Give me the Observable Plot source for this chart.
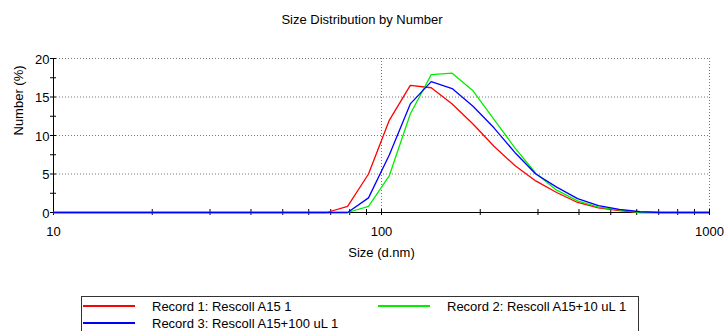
<!DOCTYPE html>
<html>
<head>
<meta charset="utf-8">
<script src="https://cdn.jsdelivr.net/npm/d3@7"></script>
<script src="https://cdn.jsdelivr.net/npm/@observablehq/plot@0.6"></script>
<style>
  body { margin: 0; background: #fff; font-family: "Liberation Sans", Arial, sans-serif; }
  #wrap { position: relative; width: 724px; height: 331px; overflow: hidden; background: #fff; }
  #title { position: absolute; left: 0; top: 13px; width: 724px; text-align: center; font-size: 13px; line-height: 13px; color: #000; }
  #chart { position: absolute; left: 0; top: 40px; }
  #chart svg { display: block; }
  #legendBox { position: absolute; left: 81px; top: 296px; width: 558px; height: 60px; border: 1px solid #333; box-sizing: border-box; }
  .ltext { position: absolute; font-size: 13px; line-height: 13px; white-space: nowrap; color: #000; }
  .lswatch { position: absolute; height: 2px; width: 52px; }
</style>
</head>
<body>
<div id="wrap">
  <div id="title"></div>
  <div id="chart"></div>
  <div id="legendBox"></div>
</div>
<script>
// ---- data ----
const titleText = "Size Distribution by Number";
const xLabel = "Size (d.nm)";
const yLabel = "Number (%)";

// size classes (d.nm)
const sizes = [8.721, 10.1, 11.7, 13.54, 15.69, 18.17, 21.04, 24.36, 28.21, 32.67, 37.84, 43.82, 50.75, 58.77,
  68.06, 78.82, 91.28, 105.7, 122.4, 141.8, 164.2, 190.1, 220.2, 255.0, 295.3, 342.0, 396.1, 458.7, 531.2, 615.1,
  712.4, 825.0, 955.4, 1106];

// Number (%) per size class
const record1 = [0, 0, 0, 0, 0, 0, 0, 0, 0, 0, 0, 0, 0, 0,
  0, 0.8, 5.0, 12.0, 16.5, 16.2, 14.1, 11.5, 8.6, 6.1, 4.1, 2.6, 1.3, 0.6, 0.25, 0,
  0, 0, 0, 0];
const record2 = [0, 0, 0, 0, 0, 0, 0, 0, 0, 0, 0, 0, 0, 0,
  0, 0, 0.8, 4.8, 12.8, 17.9, 18.1, 15.8, 12.1, 8.4, 5.1, 2.9, 1.5, 0.7, 0.35, 0,
  0, 0, 0, 0];
const record3 = [0, 0, 0, 0, 0, 0, 0, 0, 0, 0, 0, 0, 0, 0,
  0, 0, 1.9, 7.5, 14.1, 17.0, 16.1, 13.8, 11.0, 7.8, 5.0, 3.3, 1.8, 0.9, 0.4, 0.1,
  0, 0, 0, 0];

const seriesNames = ["Record 1: Rescoll A15 1", "Record 2: Rescoll A15+10 uL 1", "Record 3: Rescoll A15+100 uL 1"];
const seriesColors = ["#ff0000", "#00ee00", "#0000ff"];

const xTickLabels = [10, 100, 1000];
const xMinorTicks = [10, 20, 30, 40, 50, 60, 70, 80, 90, 100, 200, 300, 400, 500, 600, 700, 800, 900, 1000];
const yTickLabels = [0, 5, 10, 15, 20];
const yMinorTicks = [0, 2.5, 5, 7.5, 10, 12.5, 15, 17.5, 20];
const xGrid = [100, 1000];
const yGrid = [5, 10, 15, 20];
const xDomain = [10, 1000];
const yDomain = [0, 20];

// ---- layout ----
const W = 724, H = 250;
const mL = 53, mR = 15, mT = 18;
const yBottomPx = 172;          // pixel of y = 0
const mB = 70;                  // frame extends a little below y = 0 so the zero line isn't clipped
const frameBottom = H - mB;     // 180
const plotW = W - mL - mR;
const tick = 3;

const rows = [];
[record1, record2, record3].forEach((vals, k) => {
  sizes.forEach((s, i) => rows.push({size: s, value: vals[i], series: seriesNames[k]}));
});

const chart = Plot.plot({
  width: W, height: H,
  marginLeft: mL, marginRight: mR, marginTop: mT, marginBottom: mB,
  style: {fontFamily: "'Liberation Sans', Arial, sans-serif", fontSize: "13px", background: "#fff", color: "#000"},
  x: {type: "log", domain: xDomain},
  y: {domain: yDomain, range: [yBottomPx, mT]},
  color: {domain: seriesNames, range: seriesColors},
  marks: [
    Plot.ruleY(yGrid, {y: d => d, stroke: "#777", strokeDasharray: "1,2"}),
    Plot.ruleX(xGrid, {x: d => d, y1: yDomain[0], y2: yDomain[1], stroke: "#777", strokeDasharray: "1,2"}),
    Plot.ruleX([xDomain[0]], {x: d => d, y1: yDomain[0], y2: yDomain[1], stroke: "#000"}),
    Plot.ruleY([yDomain[0]], {y: d => d, stroke: "#000"}),
    Plot.tickY(yMinorTicks, {y: d => d, stroke: "#000", insetLeft: -tick, insetRight: plotW - tick}),
    Plot.tickX(xMinorTicks, {x: d => d, stroke: "#000", insetTop: yBottomPx - tick - mT, insetBottom: frameBottom - yBottomPx - tick}),
    Plot.lineY(rows, {x: "size", y: "value", z: "series", stroke: "series", strokeWidth: 1.3, clip: true}),
    Plot.axisY(yTickLabels, {tickSize: 0, tickPadding: 4, label: null, dy: 1}),
    Plot.axisX(xTickLabels, {tickSize: 0, tickPadding: 6, label: null, tickFormat: d => String(d)}),
    Plot.text([xLabel], {text: d => d, frameAnchor: "bottom", lineAnchor: "bottom", dy: 36.7}),
    Plot.text([yLabel], {text: d => d, frameAnchor: "left", rotate: -90, dx: -35, dy: -4})
  ]
});
document.getElementById("chart").appendChild(chart);
document.getElementById("title").textContent = titleText;

// ---- legend ----
const wrap = document.getElementById("wrap");
const legendPos = [
  {sx: 83, sy: 305, tx: 152, ty: 300},
  {sx: 378, sy: 305, tx: 447, ty: 300},
  {sx: 83, sy: 322, tx: 152, ty: 317}
];
seriesNames.forEach((name, i) => {
  const p = legendPos[i];
  const sw = document.createElement("div");
  sw.className = "lswatch";
  sw.style.left = p.sx + "px";
  sw.style.top = p.sy + "px";
  sw.style.background = seriesColors[i];
  wrap.appendChild(sw);
  const t = document.createElement("div");
  t.className = "ltext";
  t.style.left = p.tx + "px";
  t.style.top = p.ty + "px";
  t.textContent = name;
  wrap.appendChild(t);
});
</script>
</body>
</html>
